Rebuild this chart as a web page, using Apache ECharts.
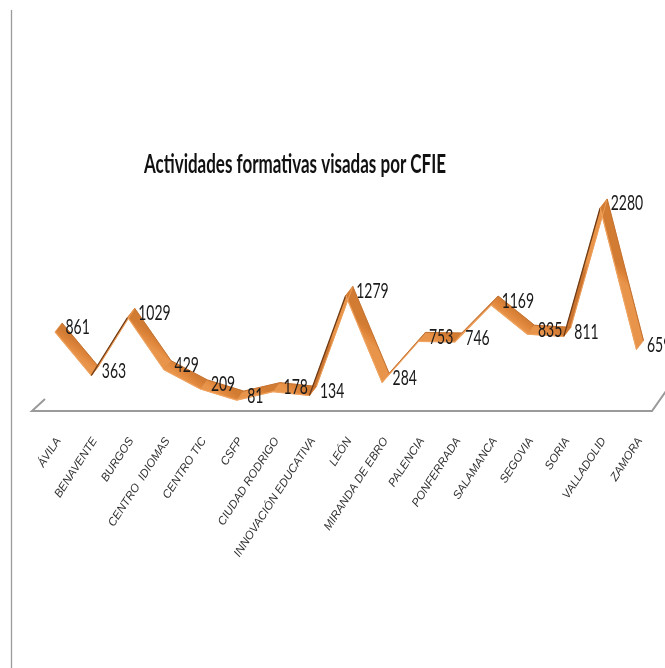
<!DOCTYPE html>
<html>
<head>
<meta charset="utf-8">
<title>Actividades formativas visadas por CFIE</title>
<script src="https://cdn.jsdelivr.net/npm/echarts@6/dist/echarts.min.js"></script>
<style>
  html, body { margin: 0; padding: 0; background: #ffffff; }
  #chart { width: 665px; height: 668px; }
</style>
</head>
<body>
<div id="chart"></div>
<script>
// Centros (CFIE) on the category axis
const categories = [
  'ÁVILA', 'BENAVENTE', 'BURGOS', 'CENTRO  IDIOMAS', 'CENTRO TIC', 'CSFP',
  'CIUDAD RODRIGO', 'INNOVACIÓN EDUCATIVA', 'LEÓN', 'MIRANDA DE EBRO',
  'PALENCIA', 'PONFERRADA', 'SALAMANCA', 'SEGOVIA', 'SORIA', 'VALLADOLID', 'ZAMORA'
];

// Actividades formativas visadas por cada centro
const visadas = [861, 363, 1029, 429, 209, 81, 178, 134, 1279, 284, 753, 746, 1169, 835, 811, 2280, 659];

const chartTitle = 'Actividades formativas visadas por CFIE';

// Depth of the extruded ribbon (pixels, screen space)
const DEPTH = [7, -9];
const TEXT_STRETCH = 1.55;

const chart = echarts.init(document.getElementById('chart'), null, { renderer: 'canvas' });

// Each item draws the ribbon segment from its point to the next one, plus its value label
function renderRibbon(params, api) {
  const i = params.dataIndex;
  const children = [];
  const a = api.coord([i, visadas[i]]);
  const hx = DEPTH[0] / 2, hy = DEPTH[1] / 2;
  if (i < visadas.length - 1) {
    const b = api.coord([i + 1, visadas[i + 1]]);
    const af = [a[0] - hx, a[1] - hy], ab = [a[0] + hx, a[1] + hy];
    const bf = [b[0] - hx, b[1] - hy], bb = [b[0] + hx, b[1] + hy];
    const sx = b[0] - a[0], sy = b[1] - a[1];
    const underside = (sx * DEPTH[1] - sy * DEPTH[0]) > 0;
    const mx = (a[0] + b[0]) / 2, my = (a[1] + b[1]) / 2;
    const fill = new echarts.graphic.LinearGradient(0, 0, 0, 0, [], true);
    fill.x = mx + hx; fill.y = my + hy; fill.x2 = mx - hx; fill.y2 = my - hy;
    fill.colorStops = underside
      ? [{ offset: 0, color: '#E99448' }, { offset: 1, color: '#CC7530' }]
      : [{ offset: 0, color: '#D27B33' }, { offset: 0.5, color: '#DF863B' }, { offset: 1, color: '#E8944B' }];
    children.push({
      type: 'polygon',
      shape: { points: [af, bf, bb, ab] },
      style: { fill: fill, stroke: '#DC853B', lineWidth: 0.6 },
      z2: 1
    });
    children.push({
      type: 'line',
      shape: { x1: af[0], y1: af[1], x2: bf[0], y2: bf[1] },
      style: { stroke: underside ? '#6E3B16' : '#F0A460', lineWidth: underside ? 1.3 : 1.1 },
      z2: 2
    });
    children.push({
      type: 'line',
      shape: { x1: ab[0], y1: ab[1], x2: bb[0], y2: bb[1] },
      style: { stroke: underside ? '#EE9F5A' : '#C06C2A', lineWidth: 0.9 },
      z2: 2
    });
  }
  children.push({
    type: 'text',
    x: a[0] + 7,
    y: a[1],
    scaleY: TEXT_STRETCH,
    style: {
      text: String(visadas[i]),
      fill: '#1a1a1a',
      font: '14px Lato, "Liberation Sans", sans-serif',
      align: 'left',
      verticalAlign: 'middle'
    },
    z2: 10
  });
  return { type: 'group', children: children };
}

const option = {
  backgroundColor: '#ffffff',
  animation: false,
  grid: { left: 58.5, right: 25, top: 184.25, bottom: 265.3, containLabel: false },
  xAxis: {
    type: 'category',
    data: categories,
    boundaryGap: false,
    axisLine: { show: false },
    axisTick: { show: false },
    splitLine: { show: false },
    axisLabel: {
      interval: 0,
      rotate: 57,
      margin: 36,
      color: '#333333',
      fontSize: 11.5,
      fontStyle: 'italic',
      fontFamily: '"Liberation Sans", sans-serif'
    }
  },
  yAxis: {
    type: 'value',
    min: 0,
    max: 2500,
    show: false
  },
  graphic: [
    // frame edge on the left
    { type: 'line', shape: { x1: 11.5, y1: 10, x2: 11.5, y2: 668 },
      style: { stroke: '#9C9C9C', lineWidth: 1.3 }, silent: true },
    // floor outline
    { type: 'polyline', shape: { points: [[45, 399], [32, 411], [652, 411], [666, 391]] },
      style: { stroke: '#9A9A9A', lineWidth: 2, fill: null }, silent: true },
    // chart title
    { type: 'text', x: 295, y: 164, scaleY: 1.62,
      style: { text: chartTitle, fill: '#111111', font: 'bold 17px Lato, "Liberation Sans", sans-serif',
               align: 'center', verticalAlign: 'middle' }, silent: true }
  ],
  series: [{
    type: 'custom',
    renderItem: renderRibbon,
    encode: { x: 0, y: 1 },
    data: visadas.map((v, i) => [i, v]),
    clip: false
  }]
};

chart.setOption(option);
</script>
</body>
</html>
